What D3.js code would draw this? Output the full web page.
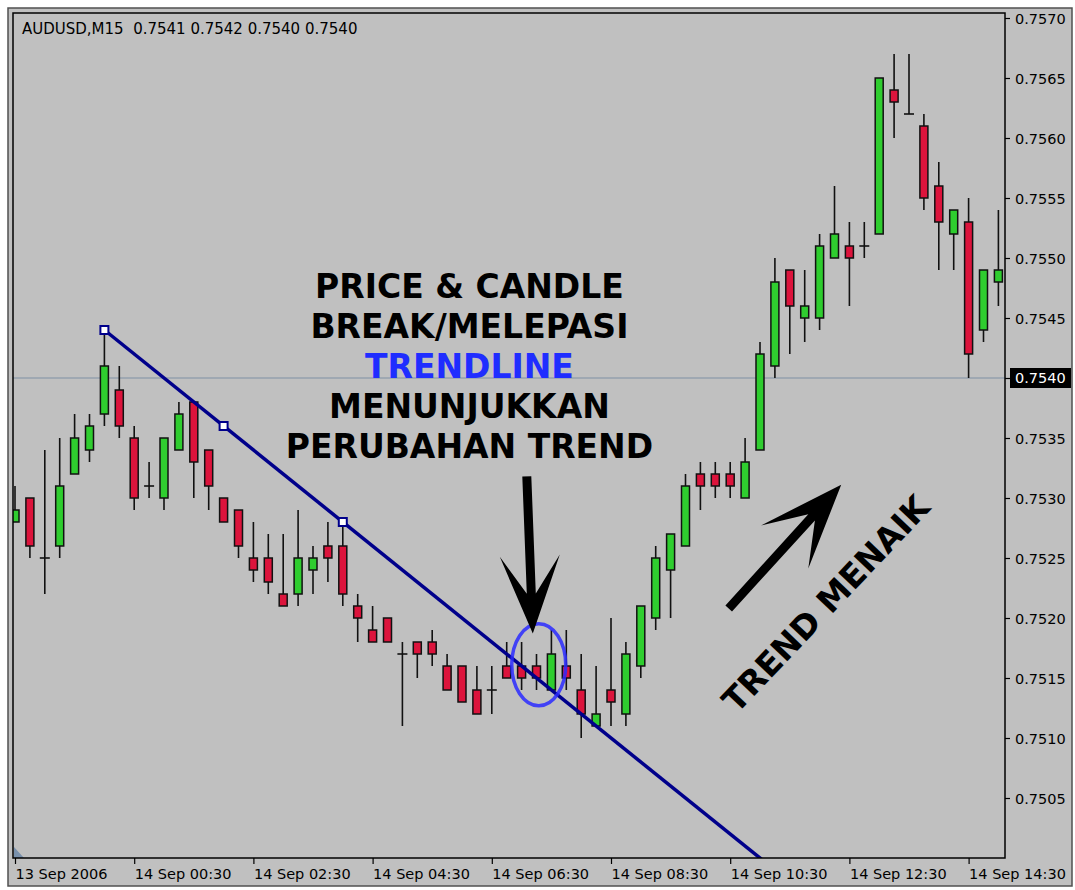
<!DOCTYPE html>
<html>
<head>
<meta charset="utf-8">
<script src="https://cdn.jsdelivr.net/npm/d3@7/dist/d3.min.js"></script>
<style>
	body { margin: 0; background: #fff; }
	svg text { font-family: 'DejaVu Sans', Verdana, sans-serif; }
</style>
</head>
<body>
<div class="chart"></div>
<script>
// AUDUSD M15, one entry per bar from 13 Sep 2006 22:30
let opens  = [0.7528,0.7530,0.7525,0.7526,0.7532,0.7534,0.7537,0.7539,0.7535,0.7531,0.7530,0.7534,0.7538,0.7534,0.7530,0.7529,0.7525,
	0.7525,0.7522,0.7522,0.7524,0.7526,0.7526,0.7521,0.7519,0.7520,0.7517,0.7518,0.7518,0.7516,0.7516,0.7514,0.7514,0.7516,
	0.7516,0.7516,0.7514,0.7516,0.7514,0.7511,0.7514,0.7512,0.7516,0.7520,0.7524,0.7526,0.7532,0.7532,0.7532,0.7530,0.7534,
	0.7541,0.7549,0.7545,0.7545,0.7550,0.7551,0.7551,0.7552,0.7564,0.7562,0.7561,0.7556,0.7552,0.7553,0.7544,0.7548];
let highs  = [0.7531,0.7530,0.7534,0.7535,0.7537,0.7537,0.7544,0.7541,0.7536,0.7533,0.7535,0.7538,0.7538,0.7534,0.7530,0.7529,0.7528,
	0.7527,0.7527,0.7529,0.7526,0.7528,0.7528,0.7522,0.7521,0.7520,0.7518,0.7518,0.7519,0.7517,0.7516,0.7516,0.7516,0.7518,
	0.7518,0.7517,0.7519,0.7519,0.7517,0.7516,0.7520,0.7518,0.7521,0.7526,0.7527,0.7532,0.7533,0.7533,0.7533,0.7535,0.7543,
	0.7550,0.7549,0.7549,0.7552,0.7556,0.7553,0.7553,0.7565,0.7567,0.7567,0.7562,0.7558,0.7554,0.7555,0.7549,0.7554];
let lows   = [0.7528,0.7525,0.7522,0.7525,0.7532,0.7533,0.7536,0.7535,0.7529,0.7530,0.7529,0.7534,0.7530,0.7529,0.7528,0.7525,0.7523,
	0.7522,0.7521,0.7521,0.7522,0.7523,0.7521,0.7518,0.7518,0.7518,0.7511,0.7515,0.7516,0.7514,0.7513,0.7512,0.7512,0.7515,
	0.7514,0.7514,0.7514,0.7514,0.7510,0.7511,0.7511,0.7511,0.7515,0.7519,0.7520,0.7526,0.7529,0.7530,0.7530,0.7530,0.7534,
	0.7540,0.7542,0.7543,0.7544,0.7550,0.7546,0.7550,0.7552,0.7560,0.7562,0.7554,0.7549,0.7549,0.7540,0.7543,0.7546];
let closes = [0.7529,0.7526,0.7525,0.7531,0.7535,0.7536,0.7541,0.7536,0.7530,0.7531,0.7535,0.7537,0.7533,0.7531,0.7528,0.7526,0.7524,
	0.7523,0.7521,0.7525,0.7525,0.7525,0.7522,0.7520,0.7518,0.7518,0.7517,0.7517,0.7517,0.7514,0.7513,0.7512,0.7514,0.7515,
	0.7515,0.7515,0.7517,0.7515,0.7512,0.7512,0.7513,0.7517,0.7521,0.7525,0.7527,0.7531,0.7531,0.7531,0.7531,0.7533,0.7542,
	0.7548,0.7546,0.7546,0.7551,0.7552,0.7550,0.7551,0.7565,0.7563,0.7562,0.7555,0.7553,0.7554,0.7542,0.7549,0.7549];

let timeTickBars = [0, 8, 16, 24, 32, 40, 48, 56, 64];
let timeTickLabels = ['13 Sep 2006', '14 Sep 00:30', '14 Sep 02:30', '14 Sep 04:30', '14 Sep 06:30',
	'14 Sep 08:30', '14 Sep 10:30', '14 Sep 12:30', '14 Sep 14:30'];
let priceTicks = [0.7505, 0.7510, 0.7515, 0.7520, 0.7525, 0.7530, 0.7535, 0.7540, 0.7545, 0.7550, 0.7555, 0.7560, 0.7565, 0.7570];

let bidPrice = 0.7540;
let trendPoints = [{bar: 6, price: 0.7544}, {bar: 22, price: 0.7528}];
let headerText = 'AUDUSD,M15  0.7541 0.7542 0.7540 0.7540';
let noteLines = ['PRICE & CANDLE', 'BREAK/MELEPASI', 'TRENDLINE', 'MENUNJUKKAN', 'PERUBAHAN TREND'];
let trendNote = 'TREND MENAIK';

let bars = opens.map((o, i) => ({i: i, open: o, high: highs[i], low: lows[i], close: closes[i]}));

let plot = {left: 13, top: 13, right: 1005, bottom: 858};
let barStep = 14.9;

let svg = d3.select('.chart')
	.append('svg')
	.attr('width', 1075)
	.attr('height', 890);

// window frame
svg.append('rect')
	.attr('x', 8).attr('y', 8)
	.attr('width', 1064).attr('height', 878)
	.style('fill', '#c0c0c0')
	.style('stroke', '#505050')
	.style('stroke-width', 1.5);

svg.append('defs').append('clipPath')
	.attr('id', 'plotclip')
	.append('rect')
	.attr('x', plot.left).attr('y', plot.top)
	.attr('width', plot.right - plot.left).attr('height', plot.bottom - plot.top);

let xScale = d3.scaleLinear()
	.domain([0, 66])
	.range([15, 15 + 66 * barStep]);

let yScale = d3.scaleLinear()
	.domain([0.7500, 0.7570])
	.range([plot.bottom, plot.bottom - 840]);

// price axis on the right
let yAxis = d3.axisRight(yScale)
	.tickValues(priceTicks)
	.tickFormat(d3.format('.4f'))
	.tickSize(5)
	.tickPadding(5);

let yAxisG = svg.append('g')
	.attr('transform', 'translate(' + plot.right + ', 0)')
	.call(yAxis);
yAxisG.select('.domain').remove();
yAxisG.selectAll('line').style('stroke', '#000').style('stroke-width', 1.2);
yAxisG.selectAll('text')
	.style('font-size', '14.5px')
	.style('fill', '#000')
	.attr('dy', '0.36em');

// time axis at the bottom
let xAxis = d3.axisBottom(xScale)
	.tickValues(timeTickBars)
	.tickFormat((d, i) => timeTickLabels[i])
	.tickSize(6)
	.tickPadding(5);

let xAxisG = svg.append('g')
	.attr('transform', 'translate(0, ' + plot.bottom + ')')
	.call(xAxis);
xAxisG.select('.domain').remove();
xAxisG.selectAll('line').style('stroke', '#000').style('stroke-width', 1.2);
xAxisG.selectAll('text')
	.style('font-size', '14.5px')
	.style('fill', '#000')
	.style('text-anchor', 'start')
	.attr('x', 0);

let chart = svg.append('g').attr('clip-path', 'url(#plotclip)');

// bid line
chart.append('line')
	.attr('x1', plot.left).attr('x2', plot.right)
	.attr('y1', yScale(bidPrice)).attr('y2', yScale(bidPrice))
	.style('stroke', '#7f8fa3')
	.style('stroke-width', 1.2);

// wicks
chart.selectAll('.wick')
	.data(bars)
	.enter()
	.append('line')
	.attr('class', 'wick')
	.attr('x1', d => xScale(d.i)).attr('x2', d => xScale(d.i))
	.attr('y1', d => yScale(d.high)).attr('y2', d => yScale(d.low))
	.style('stroke', '#111')
	.style('stroke-width', 1.6);

// bodies
chart.selectAll('.body')
	.data(bars.filter(d => d.open !== d.close))
	.enter()
	.append('rect')
	.attr('class', 'body')
	.attr('x', d => xScale(d.i) - 4)
	.attr('width', 8)
	.attr('y', d => yScale(Math.max(d.open, d.close)))
	.attr('height', d => Math.abs(yScale(d.open) - yScale(d.close)))
	.style('fill', d => d.close > d.open ? '#2fcd2f' : '#dc143c')
	.style('stroke', '#111')
	.style('stroke-width', 1.5);

// doji
chart.selectAll('.doji')
	.data(bars.filter(d => d.open === d.close))
	.enter()
	.append('line')
	.attr('class', 'doji')
	.attr('x1', d => xScale(d.i) - 5).attr('x2', d => xScale(d.i) + 5)
	.attr('y1', d => yScale(d.open)).attr('y2', d => yScale(d.open))
	.style('stroke', '#111')
	.style('stroke-width', 1.6);

// trendline (ray)
let p0 = trendPoints[0], p1 = trendPoints[1];
let slope = (p1.price - p0.price) / (p1.bar - p0.bar);
let rayEnd = 60;
chart.append('line')
	.attr('x1', xScale(p0.bar)).attr('y1', yScale(p0.price))
	.attr('x2', xScale(rayEnd)).attr('y2', yScale(p0.price + slope * (rayEnd - p0.bar)))
	.style('stroke', '#00008b')
	.style('stroke-width', 3.5);

let anchors = [p0, {bar: (p0.bar + p1.bar) / 2, price: (p0.price + p1.price) / 2}, p1];
chart.selectAll('.anchor')
	.data(anchors)
	.enter()
	.append('rect')
	.attr('class', 'anchor')
	.attr('x', d => xScale(d.bar) - 4)
	.attr('y', d => yScale(d.price) - 4)
	.attr('width', 8).attr('height', 8)
	.style('fill', '#fff')
	.style('stroke', '#00008b')
	.style('stroke-width', 2);

// circle round the break
chart.append('ellipse')
	.attr('cx', xScale(35.15)).attr('cy', yScale(0.75161))
	.attr('rx', 27).attr('ry', 41)
	.style('fill', 'none')
	.style('stroke', '#2a2aff')
	.style('stroke-opacity', 0.85)
	.style('stroke-width', 3.5);

function arrowPath(a, b, headLen, headHalf, notch, shaft) {
	let dx = b[0] - a[0], dy = b[1] - a[1];
	let len = Math.hypot(dx, dy);
	let ux = dx / len, uy = dy / len, nx = -uy, ny = ux;
	let back = [b[0] - ux * headLen, b[1] - uy * headLen];
	let nt = [b[0] - ux * notch, b[1] - uy * notch];
	let pts = [
		[a[0] + nx * shaft / 2, a[1] + ny * shaft / 2],
		[nt[0] + nx * shaft / 2, nt[1] + ny * shaft / 2],
		[back[0] + nx * headHalf, back[1] + ny * headHalf],
		b,
		[back[0] - nx * headHalf, back[1] - ny * headHalf],
		[nt[0] - nx * shaft / 2, nt[1] - ny * shaft / 2],
		[a[0] - nx * shaft / 2, a[1] - ny * shaft / 2]
	];
	return 'M' + pts.map(p => p[0].toFixed(1) + ',' + p[1].toFixed(1)).join('L') + 'Z';
}

// arrow pointing at the break
chart.append('path')
	.attr('d', arrowPath([xScale(34.35), yScale(0.75318)], [xScale(34.75), yScale(0.75187)], 78, 30, 40, 9))
	.style('fill', '#000');

// arrow for the up trend
chart.append('path')
	.attr('d', arrowPath([xScale(47.9), yScale(0.75208)], [xScale(55.45), yScale(0.75311)], 84, 32, 44, 9))
	.style('fill', '#000');

// text notes
let notes = svg.append('g');
notes.selectAll('text')
	.data(noteLines)
	.enter()
	.append('text')
	.attr('x', xScale(30.5))
	.attr('y', (d, i) => 298 + i * 40)
	.attr('text-anchor', 'middle')
	.style('font-size', '33px')
	.style('font-weight', 'bold')
	.style('fill', d => d === 'TRENDLINE' ? '#1f2dff' : '#000')
	.text(d => d);

notes.append('text')
	.attr('transform', 'translate(' + xScale(54.4) + ',' + yScale(0.75212) + ') rotate(-46.5)')
	.attr('text-anchor', 'middle')
	.attr('dy', '0.36em')
	.style('font-size', '33px')
	.style('font-weight', 'bold')
	.style('fill', '#000')
	.text(trendNote);

// bid price label
svg.append('rect')
	.attr('x', 1010).attr('y', yScale(bidPrice) - 10)
	.attr('width', 61).attr('height', 20)
	.style('fill', '#000');
svg.append('text')
	.attr('x', 1015).attr('y', yScale(bidPrice))
	.attr('dy', '0.36em')
	.style('font-size', '14.5px')
	.style('fill', '#fff')
	.text(d3.format('.4f')(bidPrice));

// chart shift marker
svg.append('path')
	.attr('d', 'M' + (plot.left + 1) + ',' + (plot.bottom - 11) + 'L' + (plot.left + 11) + ',' + plot.bottom + 'L' + (plot.left + 1) + ',' + plot.bottom + 'Z')
	.style('fill', '#7890ac');

// plot border
svg.append('rect')
	.attr('x', plot.left).attr('y', plot.top)
	.attr('width', plot.right - plot.left).attr('height', plot.bottom - plot.top)
	.style('fill', 'none')
	.style('stroke', '#000')
	.style('stroke-width', 1.5);

svg.append('text')
	.attr('x', 22).attr('y', 34)
	.style('font-size', '15px')
	.style('white-space', 'pre')
	.style('fill', '#000')
	.text(headerText);
</script>
</body>
</html>
